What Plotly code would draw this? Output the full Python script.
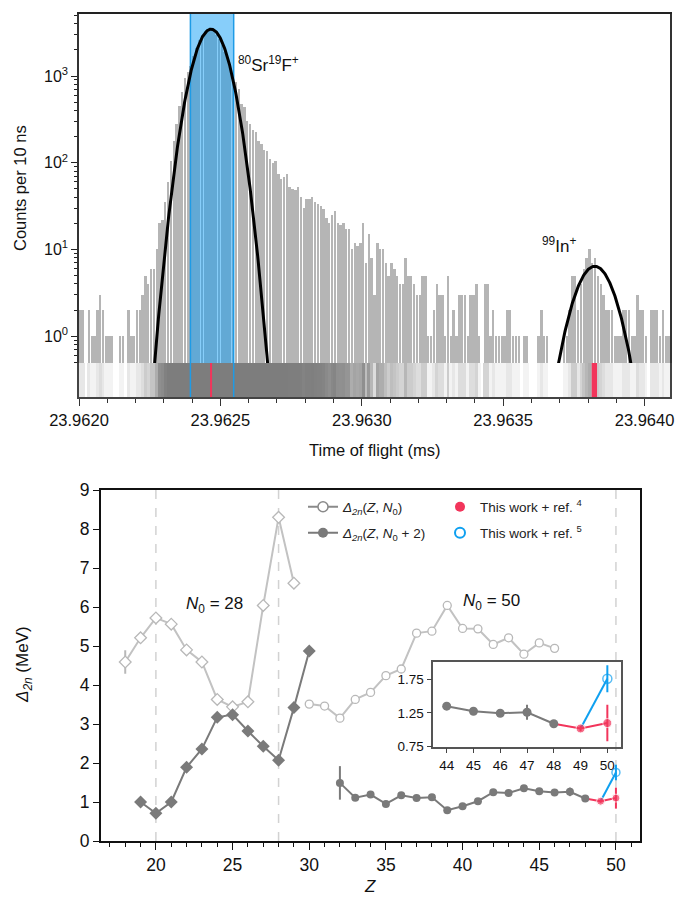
import numpy as np
import plotly.graph_objects as go

# ---------------- Top panel: time-of-flight histogram ----------------
tof_start = 23.9620          # ms, left edge of first bin
bin_width = 0.00001          # ms (10 ns)
tof_end = 23.96409           # ms, right end of axis
counts = [
    2, 2, 0, 2, 1, 1, 2, 3, 2, 1,
    1, 1, 0, 0, 1, 1, 0, 2, 1, 1,
    2, 2, 3, 5, 4, 6, 6, 10, 20, 22,
    35, 60, 105, 180, 280, 450, 650, 950, 1100,
    1300, 1700, 2100, 2600, 3000, 3300, 3500, 3450, 3300, 3000, 2700, 2300, 1900, 1600, 1300, 1050,
    850, 700, 480, 440, 300, 280, 240, 225, 180, 165, 140, 135, 110, 100, 105,
    75, 65, 68, 75, 52, 50, 48, 53, 40, 30,
    38, 38, 40, 35, 33, 32, 29, 23, 20, 25,
    28, 20, 19, 20, 17, 17, 10, 12, 11, 12,
    20, 7, 15, 8, 3, 12, 10, 10, 7, 5,
    7, 6, 5, 4, 4, 8, 5, 5, 4, 3,
    3, 5, 5, 1, 1, 2, 4, 3, 3, 1,
    5, 1, 2, 1, 3, 3, 3, 1, 3, 3,
    4, 1, 0, 4, 4, 1, 2, 1, 1, 1,
    1, 2, 2, 1, 1, 1, 0, 1, 1, 0,
    0, 0, 1, 2, 1, 1, 0, 0, 0, 0,
    0, 1, 1, 2, 5, 5, 2, 4, 6, 8,
    10, 7, 8, 5, 4, 3, 2, 2, 2, 1,
    1, 1, 2, 2, 2, 1, 1, 3, 2, 2,
    1, 0, 2, 2, 2, 1, 2, 1, 1,
]
# Gaussian fit parameters (amplitude, centre in ms, sigma in ms)
sr_fit = (3470.0, 23.962467, 0.0000475)
in_fit = (6.4, 23.963824, 0.0000566)
gate_lo, gate_hi = 23.962394, 23.962547     # selection window (blue)
in_mark_lo, in_mark_hi = 23.963813, 23.963832
y_log_min, y_log_max = 0.49, 5190.0

# ---------------- Bottom panel: two-neutron shell gaps ----------------
Z_open_28 = [18, 19, 20, 21, 22, 23, 24, 25, 26, 27, 28, 29]
D_open_28 = [4.59, 5.21, 5.72, 5.56, 4.90, 4.59, 3.63, 3.44, 3.57, 6.04, 8.30, 6.61]
E_open_28 = [0.30, 0, 0, 0, 0, 0, 0, 0, 0, 0, 0, 0]
Z_open_50 = [30, 31, 32, 33, 34, 35, 36, 37, 38, 39, 40, 41, 42, 43, 44, 45, 46]
D_open_50 = [3.51, 3.46, 3.15, 3.63, 3.81, 4.24, 4.41, 5.33, 5.38, 6.04, 5.45, 5.44, 5.04, 5.21, 4.79, 5.08, 4.94]
Z_fill_28 = [19, 20, 21, 22, 23, 24, 25, 26, 27, 28, 29, 30]
D_fill_28 = [1.00, 0.71, 1.00, 1.89, 2.36, 3.17, 3.24, 2.82, 2.43, 2.07, 3.42, 4.87]
Z_fill_50 = [32, 33, 34, 35, 36, 37, 38, 39, 40, 41, 42, 43, 44, 45, 46, 47, 48]
D_fill_50 = [1.49, 1.11, 1.19, 0.95, 1.17, 1.10, 1.12, 0.79, 0.89, 1.02, 1.25, 1.23, 1.35, 1.275, 1.246, 1.26, 1.09]
E_fill_50 = [0.43, 0, 0, 0, 0, 0, 0, 0, 0, 0, 0, 0, 0, 0, 0, 0.11, 0]
Z_red = [48, 49, 50]
D_red = [1.09, 1.02, 1.10]
E_red = [0, 0.04, 0.27]
Z_blue = [49, 50]
D_blue = [1.02, 1.757]
E_blue = [0, 0.20]
shell_closures = [20, 28, 50]
inset_Z_min = 44

# ---------------- styling ----------------
W, H = 676, 899
FONT = "Liberation Sans, Arial, sans-serif"
BAR = "#b5b5b5"
LIGHT = "#c2c2c2"
DARK = "#7a7a7a"
RED = "#f2355b"
BLUE = "#0fa0f0"


def px(x):
    return x / W


def py(y):
    return 1 - y / H


fig = go.Figure()

# histogram bars
centers = [tof_start + (i + 0.5) * bin_width for i in range(len(counts))]
bar_y = [c if c > 0 else None for c in counts]
fig.add_trace(go.Bar(x=centers, y=bar_y, width=bin_width * 0.85, marker=dict(color=BAR, line=dict(width=0)),
                     xaxis="x", yaxis="y", showlegend=False, hoverinfo="skip"))

# selection window (drawn above bars)
fig.add_trace(go.Scatter(x=[gate_lo, gate_lo, gate_hi, gate_hi, gate_lo], y=[0.01, 1e6, 1e6, 0.01, 0.01],
                         fill="toself", fillcolor="rgba(15,157,245,0.5)", mode="lines",
                         line=dict(color="#1e9be6", width=1.5), xaxis="x", yaxis="y",
                         showlegend=False, hoverinfo="skip"))

# fit curves
for amp, mu, sig in (sr_fit, in_fit):
    xs = np.linspace(mu - 6 * sig, mu + 6 * sig, 400)
    ys = amp * np.exp(-(xs - mu) ** 2 / (2 * sig ** 2))
    fig.add_trace(go.Scatter(x=xs, y=ys, mode="lines", line=dict(color="black", width=3),
                             xaxis="x", yaxis="y", showlegend=False, hoverinfo="skip"))

# event strip (grey-scale density)
shade = [1 - np.exp(-c / 10.0) for c in counts]
fig.add_trace(go.Heatmap(x=centers, y=[0], z=[shade], zmin=0, zmax=1,
                         colorscale=[[0, "#ffffff"], [1, "#7d7d7d"]], showscale=False,
                         xaxis="x2", yaxis="y2", hoverinfo="skip"))

# ---------------- bottom panel traces ----------------
fig.add_trace(go.Scatter(x=Z_open_28, y=D_open_28, mode="lines+markers",
                         line=dict(color=LIGHT, width=2),
                         marker=dict(symbol="diamond", size=9, color="white", line=dict(color="#b8b8b8", width=1.3)),
                         error_y=dict(type="data", array=E_open_28, color="#b8b8b8", thickness=2, width=0),
                         xaxis="x3", yaxis="y3", showlegend=False))
fig.add_trace(go.Scatter(x=Z_open_50, y=D_open_50, mode="lines+markers",
                         line=dict(color=LIGHT, width=2),
                         marker=dict(symbol="circle", size=8, color="white", line=dict(color="#b8b8b8", width=1.3)),
                         xaxis="x3", yaxis="y3", showlegend=False))
fig.add_trace(go.Scatter(x=Z_fill_28, y=D_fill_28, mode="lines+markers",
                         line=dict(color=DARK, width=2),
                         marker=dict(symbol="diamond", size=10, color=DARK),
                         xaxis="x3", yaxis="y3", showlegend=False))

for xa, ya, msize in (("x3", "y3", 8), ("x4", "y4", 9)):
    fig.add_trace(go.Scatter(x=Z_blue, y=D_blue, mode="lines+markers",
                             line=dict(color=BLUE, width=2),
                             marker=dict(symbol="circle-open", size=[0, msize], color=BLUE, line=dict(width=1.5)),
                             error_y=dict(type="data", array=E_blue, color=BLUE, thickness=2, width=0),
                             xaxis=xa, yaxis=ya, showlegend=False))
    fig.add_trace(go.Scatter(x=Z_red, y=D_red, mode="lines+markers",
                             line=dict(color=RED, width=2),
                             marker=dict(symbol="circle", size=[0, msize, msize], color=RED),
                             error_y=dict(type="data", array=E_red, color=RED, thickness=2, width=0),
                             xaxis=xa, yaxis=ya, showlegend=False))
    if xa == "x3":
        zz, dd, ee = Z_fill_50, D_fill_50, E_fill_50
    else:
        sel = [i for i, z in enumerate(Z_fill_50) if z >= inset_Z_min]
        zz = [Z_fill_50[i] for i in sel]
        dd = [D_fill_50[i] for i in sel]
        ee = [E_fill_50[i] for i in sel]
    fig.add_trace(go.Scatter(x=zz, y=dd, mode="lines+markers",
                             line=dict(color=DARK, width=2),
                             marker=dict(symbol="circle", size=msize, color=DARK),
                             error_y=dict(type="data", array=ee, color=DARK, thickness=2, width=0),
                             xaxis=xa, yaxis=ya, showlegend=False))

# legend-only entries
leg_font = dict(family=FONT, size=13.5, color="#222")
fig.add_trace(go.Scatter(x=[None], y=[None], mode="lines+markers", name="<i>Δ</i><sub><i>2n</i></sub>(<i>Z</i>, <i>N</i><sub>0</sub>)",
                         line=dict(color="#8a8a8a", width=2),
                         marker=dict(symbol="circle", size=10, color="white", line=dict(color="#8a8a8a", width=1.5)),
                         xaxis="x3", yaxis="y3", legend="legend"))
fig.add_trace(go.Scatter(x=[None], y=[None], mode="lines+markers", name="<i>Δ</i><sub><i>2n</i></sub>(<i>Z</i>, <i>N</i><sub>0</sub> + 2)",
                         line=dict(color=DARK, width=2),
                         marker=dict(symbol="circle", size=10, color=DARK),
                         xaxis="x3", yaxis="y3", legend="legend2"))
fig.add_trace(go.Scatter(x=[None], y=[None], mode="markers", name="This work + ref. <sup>4</sup>",
                         marker=dict(symbol="circle", size=10, color=RED),
                         xaxis="x3", yaxis="y3", legend="legend3"))
fig.add_trace(go.Scatter(x=[None], y=[None], mode="markers", name="This work + ref. <sup>5</sup>",
                         marker=dict(symbol="circle-open", size=10, color=BLUE, line=dict(width=2)),
                         xaxis="x3", yaxis="y3", legend="legend4"))


def legend_at(xp, yp):
    return dict(x=px(xp), y=py(yp), xanchor="left", yanchor="middle", bgcolor="rgba(0,0,0,0)",
                borderwidth=0, font=leg_font, itemwidth=30)


axis_font = dict(family=FONT, size=17, color="#111")
shapes = []
for z in shell_closures:
    shapes.append(dict(type="line", xref="x3", yref="y3 domain", x0=z, x1=z, y0=0, y1=1,
                       line=dict(color="#d2d2d2", width=1.5, dash="dash"), layer="below"))
# strip markers
for g in (gate_lo, gate_hi):
    shapes.append(dict(type="line", xref="x2", yref="y2 domain", x0=g, x1=g, y0=0, y1=1,
                       line=dict(color="#1e9be6", width=1.5)))
shapes.append(dict(type="line", xref="x2", yref="y2 domain", x0=sr_fit[1], x1=sr_fit[1], y0=0, y1=1,
                   line=dict(color=RED, width=2)))
shapes.append(dict(type="rect", xref="x2", yref="y2 domain", x0=in_mark_lo, x1=in_mark_hi, y0=0, y1=1,
                   fillcolor=RED, line=dict(width=0)))

annotations = [
    dict(text="<sup>80</sup>Sr<sup>19</sup>F<sup>+</sup>", x=px(236), y=py(64), xref="paper", yref="paper",
         xanchor="left", yanchor="middle", showarrow=False, font=axis_font),
    dict(text="<sup>99</sup>In<sup>+</sup>", x=px(540), y=py(245), xref="paper", yref="paper",
         xanchor="left", yanchor="middle", showarrow=False, font=axis_font),
    dict(text="Counts per 10 ns", x=px(20), y=py(188), xref="paper", yref="paper", textangle=-90,
         xanchor="center", yanchor="middle", showarrow=False, font=dict(family=FONT, size=16.5, color="#111")),
    dict(text="Time of flight (ms)", x=px(374.5), y=py(450), xref="paper", yref="paper",
         xanchor="center", yanchor="middle", showarrow=False, font=dict(family=FONT, size=16.5, color="#111")),
    dict(text="<i>N</i><sub>0</sub> = 28", x=px(184), y=py(605), xref="paper", yref="paper",
         xanchor="left", yanchor="middle", showarrow=False, font=axis_font),
    dict(text="<i>N</i><sub>0</sub> = 50", x=px(461), y=py(602), xref="paper", yref="paper",
         xanchor="left", yanchor="middle", showarrow=False, font=axis_font),
    dict(text="<i>Δ</i><sub><i>2n</i></sub> (MeV)", x=px(24), y=py(665), xref="paper", yref="paper", textangle=-90,
         xanchor="center", yanchor="middle", showarrow=False, font=axis_font),
    dict(text="<i>Z</i>", x=px(370), y=py(886), xref="paper", yref="paper",
         xanchor="center", yanchor="middle", showarrow=False, font=axis_font),
]

common = dict(automargin=False, showgrid=False, zeroline=False)

fig.update_layout(
    template="none",
    width=W, height=H, margin=dict(l=0, r=0, t=0, b=0, pad=0, autoexpand=False),
    paper_bgcolor="white", plot_bgcolor="rgba(0,0,0,0)",
    font=dict(family=FONT, color="#111"),
    bargap=0, barmode="overlay",
    shapes=shapes, annotations=annotations,
    legend=legend_at(303, 507), legend2=legend_at(303, 533),
    legend3=legend_at(440, 507), legend4=legend_at(440, 533),
    xaxis=dict(domain=[px(79), px(670)], range=[tof_start, tof_end], anchor="y",
               showticklabels=False, ticks="",
               showline=True, linecolor="#222", linewidth=1.5, mirror=True, **common),
    yaxis=dict(domain=[py(363), py(14)], type="log", range=[np.log10(y_log_min), np.log10(y_log_max)],
               anchor="x", tickmode="array", tickvals=[1, 10, 100, 1000],
               ticktext=["10<sup>0</sup>", "10<sup>1</sup>", "10<sup>2</sup>", "10<sup>3</sup>"],
               ticks="outside", ticklen=6, tickwidth=1.2, tickcolor="#222",
               minor=dict(tickmode="array", ticks="outside", ticklen=3, tickwidth=1, tickcolor="#222",
                          tickvals=[v * 10 ** e for e in range(-1, 4) for v in range(2, 10) if 0.49 < v * 10 ** e < 5190]),
               tickfont=dict(family=FONT, size=16, color="#111"),
               showline=True, linecolor="#333", linewidth=1.5, mirror=True, **common),
    xaxis2=dict(domain=[px(79), px(670)], range=[tof_start, tof_end], anchor="y2", matches="x",
                tickmode="linear", tick0=tof_start, dtick=0.0005, tickformat=".4f",
                ticks="outside", ticklen=7, tickwidth=1.2, tickcolor="#333",
                minor=dict(dtick=0.0001, ticks="outside", ticklen=4, tickwidth=1, tickcolor="#333"),
                tickfont=dict(family=FONT, size=16.5, color="#111"),
                showline=True, linecolor="#444", linewidth=1.5, mirror=False, **common),
    yaxis2=dict(domain=[py(397), py(363)], range=[-0.5, 0.5], anchor="x2", showticklabels=False, ticks="",
                showline=True, linecolor="#444", linewidth=1.5, mirror=True, **common),
    xaxis3=dict(domain=[px(100.7), px(640)], range=[16.4, 51.57], anchor="y3",
                tickmode="array", tickvals=[20, 25, 30, 35, 40, 45, 50],
                ticks="outside", ticklen=7, tickwidth=1.3, tickcolor="#111",
                minor=dict(dtick=1, tick0=0, ticks="outside", ticklen=4, tickwidth=1.1, tickcolor="#111"),
                tickfont=dict(family=FONT, size=17.5, color="#111"),
                showline=True, linecolor="#111", linewidth=1.5, mirror=True, **common),
    yaxis3=dict(domain=[py(841), py(490)], range=[0, 9], anchor="x3", dtick=1, tick0=0,
                ticks="outside", ticklen=6, tickwidth=1.3, tickcolor="#111",
                tickfont=dict(family=FONT, size=17.5, color="#111"),
                showline=True, linecolor="#111", linewidth=1.5, mirror=True, **common),
    xaxis4=dict(domain=[px(433.3), px(621)], range=[43.5, 50.51], anchor="y4", dtick=1, tick0=0,
                ticks="outside", ticklen=5, tickwidth=1.2, tickcolor="#444",
                tickfont=dict(family=FONT, size=13.5, color="#111"),
                showline=True, linecolor="#555", linewidth=1.5, mirror=True, **common),
    yaxis4=dict(domain=[py(746.7), py(662.3)], range=[0.75, 2.0], anchor="x4", tickmode="array",
                tickvals=[0.75, 1.25, 1.75], ticktext=["0.75", "1.25", "1.75"],
                ticks="outside", ticklen=5, tickwidth=1.2, tickcolor="#444",
                tickfont=dict(family=FONT, size=13.5, color="#111"),
                showline=True, linecolor="#555", linewidth=1.5, mirror=True, **common),
)

fig.write_html("out.html", config={"displayModeBar": False},
               post_script="document.body.style.margin='0';")
